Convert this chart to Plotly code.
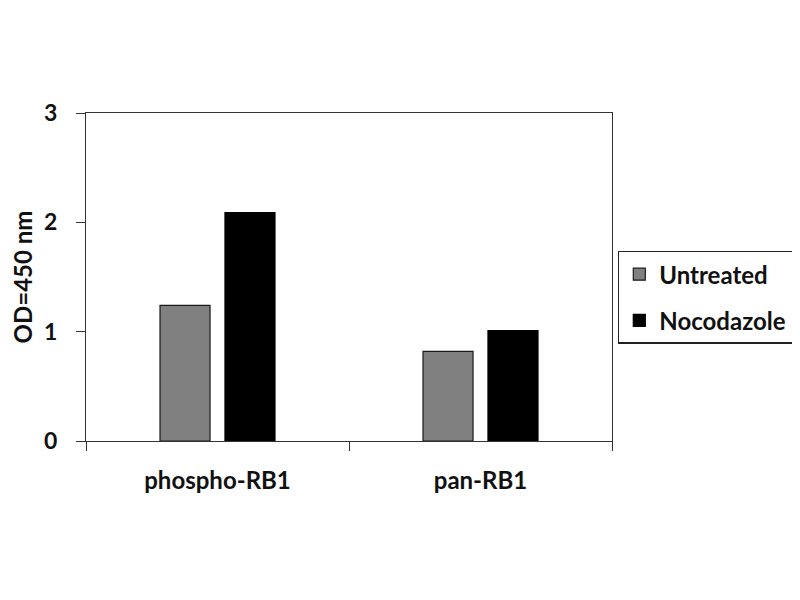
import plotly.graph_objects as go

categories = ["phospho-RB1", "pan-RB1"]
untreated = [1.24, 0.82]
nocodazole = [2.09, 1.01]
y_ticks = [0, 1, 2, 3]
y_title = "OD=450 nm"

FONT = "Lato, 'Open Sans', sans-serif"

fig = go.Figure()
fig.add_trace(go.Bar(name="Untreated", x=categories, y=untreated,
                     marker=dict(color="#808080", line=dict(color="#1a1a1a", width=1.2)),
                     legendgroup="a"))
fig.add_trace(go.Bar(name="Nocodazole", x=categories, y=nocodazole,
                     marker=dict(color="#000000", line=dict(color="#000000", width=1.2)),
                     legendgroup="b"))

fig.update_layout(
    width=800, height=600,
    margin=dict(l=78, r=196, t=105, b=167, autoexpand=False),
    paper_bgcolor="white", plot_bgcolor="white",
    barmode="group", bargap=0.506, bargroupgap=0.23,
    font=dict(family=FONT, size=24, color="#111111"),
    showlegend=True,
    legend=dict(x=1.0114, y=0.58, xanchor="left", yanchor="top",
                bordercolor="#222222", borderwidth=1.3,
                font=dict(family=FONT, size=24, color="#111111", weight="bold"),
                traceorder="grouped", tracegroupgap=12),
    xaxis=dict(showline=True, linecolor="#333333", linewidth=1.3, mirror=True,
               ticks="outside", tickson="boundaries", ticklen=9, tickcolor="#333333",
               ticklabelstandoff=18, automargin=False,
               tickfont=dict(family=FONT, size=24, weight="bold"), showgrid=False),
    yaxis=dict(range=[0, 3], tickvals=y_ticks, showline=True, linecolor="#333333",
               linewidth=1.3, mirror=True, ticks="outside", ticklen=9,
               tickcolor="#333333", showgrid=False, zeroline=False,
               ticklabelstandoff=14, automargin=False,
               tickfont=dict(family=FONT, size=23, weight="bold"),
               title=dict(text=y_title, font=dict(family=FONT, size=24, weight="bold"), standoff=18)),
)

fig.write_html("out.html")
